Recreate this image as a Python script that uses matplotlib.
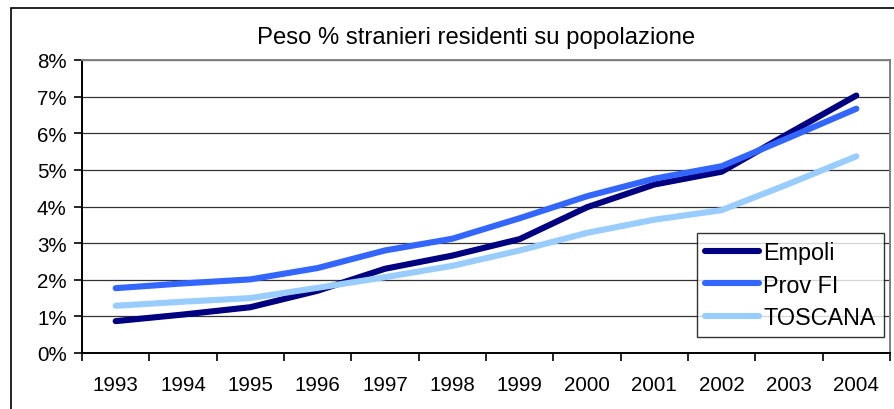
import matplotlib.pyplot as plt
from matplotlib.patches import Rectangle
from matplotlib.ticker import FixedLocator, PercentFormatter

plt.rcParams['font.family'] = ['Liberation Sans', 'DejaVu Sans']

years = ["1993", "1994", "1995", "1996", "1997", "1998",
         "1999", "2000", "2001", "2002", "2003", "2004"]
empoli = [0.87, 1.05, 1.25, 1.70, 2.30, 2.66, 3.11, 3.98, 4.60, 4.95, 6.00, 7.03]
prov_fi = [1.77, 1.90, 2.01, 2.32, 2.80, 3.12, 3.68, 4.28, 4.76, 5.10, 5.88, 6.67]
toscana = [1.29, 1.40, 1.50, 1.78, 2.07, 2.38, 2.80, 3.28, 3.64, 3.90, 4.62, 5.37]

series = [("Empoli", empoli, "#000080"),
          ("Prov FI", prov_fi, "#3366FF"),
          ("TOSCANA", toscana, "#99CCFF")]

fig = plt.figure(figsize=(8.95, 4.10), dpi=100)
ax = fig.add_axes([82 / 895, 56 / 410, 808 / 895, 293 / 410])

x = list(range(len(years)))
for name, vals, col in series:
    ax.plot(x, vals, color=col, lw=4.4, solid_capstyle="round",
            solid_joinstyle="round", label=name)

ax.set_xlim(-0.5, len(years) - 0.5)
ax.set_ylim(0, 8)
ax.set_yticks(range(0, 9))
ax.yaxis.set_major_formatter(PercentFormatter(decimals=0))
ax.grid(axis="y", color="#333333", lw=0.9)
ax.set_axisbelow(True)

ax.set_xticks(x)
ax.set_xticklabels(years)
ax.xaxis.set_minor_locator(FixedLocator([i - 0.5 for i in range(len(years) + 1)]))
ax.tick_params(axis="x", which="major", length=0, pad=16, labelsize=14.8)
ax.tick_params(axis="x", which="minor", length=6, width=1.2, direction="out")
ax.tick_params(axis="y", length=6, width=1.2, direction="out", pad=5, labelsize=14.8)

for side in ("top", "right"):
    ax.spines[side].set_color("#808080")
    ax.spines[side].set_linewidth(1.4)
for side in ("left", "bottom"):
    ax.spines[side].set_color("black")
    ax.spines[side].set_linewidth(1.4)

ax.set_title("Peso % stranieri residenti su popolazione", fontsize=17.2, pad=12, x=0.488)

leg = ax.legend(loc="lower right", bbox_to_anchor=(0.9926, 0.0546), fontsize=16.8,
                frameon=True, fancybox=False, edgecolor="black",
                handlelength=2.3, handletextpad=0.2, borderpad=0.35,
                labelspacing=0.4, borderaxespad=0)
leg.get_frame().set_linewidth(1.0)

fig.patches.append(Rectangle((11 / 895, -0.1), 2, (410 - 9) / 410 + 0.1,
                             transform=fig.transFigure, fill=False,
                             edgecolor="black", lw=1.2))

fig.savefig("out.png", dpi=100)
